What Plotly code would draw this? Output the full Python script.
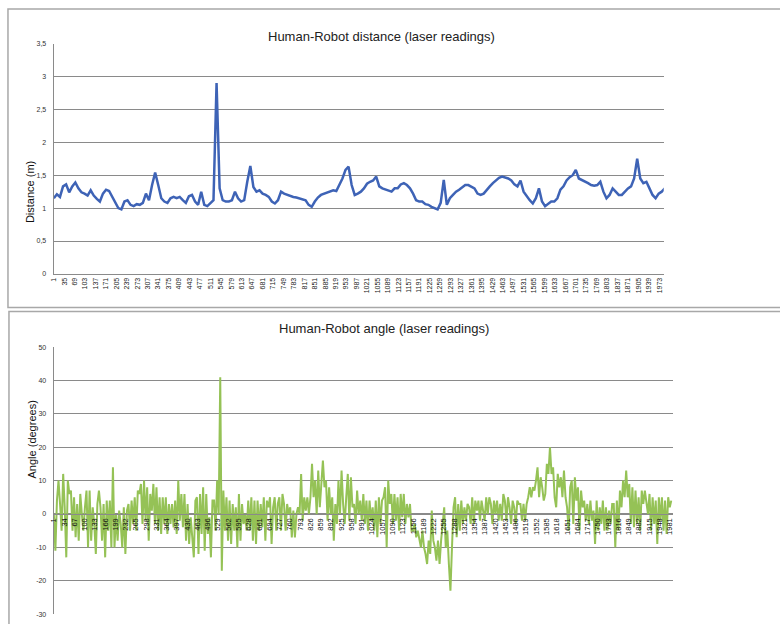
import plotly.graph_objects as go

W, H = 780, 624

# ---- data -------------------------------------------------------------
# Human-robot distance in metres, one reading every 10 frames from frame 1
DIST_STEP = 10
distance_m = [
    1.15, 1.21, 1.17, 1.33, 1.36, 1.24, 1.33, 1.39, 1.30, 1.24,
    1.22, 1.19, 1.27, 1.19, 1.14, 1.10, 1.22, 1.28, 1.26, 1.18,
    1.08, 1.00, 0.98, 1.10, 1.12, 1.05, 1.03, 1.06, 1.05, 1.08,
    1.22, 1.12, 1.35, 1.54, 1.35, 1.15, 1.10, 1.08, 1.15, 1.17,
    1.15, 1.17, 1.12, 1.08, 1.18, 1.20, 1.10, 1.05, 1.25, 1.05,
    1.03, 1.08, 1.12, 2.90, 1.30, 1.12, 1.10, 1.10, 1.12, 1.25,
    1.15, 1.10, 1.12, 1.40, 1.64, 1.32, 1.25, 1.27, 1.22, 1.20,
    1.17, 1.10, 1.07, 1.12, 1.25, 1.22, 1.20, 1.18, 1.17, 1.16,
    1.15, 1.13, 1.12, 1.05, 1.02, 1.10, 1.16, 1.20, 1.22, 1.23,
    1.25, 1.27, 1.26, 1.35, 1.45, 1.58, 1.63, 1.35, 1.20, 1.22,
    1.25, 1.30, 1.37, 1.40, 1.42, 1.48, 1.33, 1.30, 1.28, 1.27,
    1.25, 1.30, 1.30, 1.36, 1.38, 1.35, 1.30, 1.22, 1.12, 1.10,
    1.10, 1.06, 1.05, 1.02, 1.00, 0.98, 1.08, 1.43, 1.05, 1.15,
    1.20, 1.25, 1.28, 1.32, 1.35, 1.35, 1.33, 1.30, 1.22, 1.20,
    1.22, 1.28, 1.33, 1.38, 1.42, 1.46, 1.48, 1.47, 1.45, 1.42,
    1.36, 1.33, 1.42, 1.25, 1.18, 1.12, 1.07, 1.15, 1.30, 1.10,
    1.03, 1.07, 1.10, 1.10, 1.15, 1.28, 1.33, 1.42, 1.47, 1.50,
    1.58, 1.45, 1.43, 1.40, 1.38, 1.35, 1.34, 1.35, 1.40, 1.25,
    1.15, 1.20, 1.30, 1.25, 1.20, 1.20, 1.25, 1.30, 1.33, 1.45,
    1.75, 1.45, 1.38, 1.40, 1.30, 1.20, 1.15, 1.22, 1.25, 1.30,
]

# Human-robot angle in degrees, one reading every 5 frames from frame 1
ANGLE_STEP = 5
angle_deg = [
    0, -11, 4, 10, 3, -5, 12, 2, -13, 10,
    6, 7, -5, 5, -7, 3, -8, 6, 0, -5,
    2, 7, -10, 7, -8, 2, -3, -12, 3, 7,
    2, -8, 3, -13, 4, -5, 4, -10, 14, -10,
    0, -8, 1, -3, -10, 2, -12, 1, 3, -5,
    4, -3, 5, -5, 7, 6, 9, -3, 10, -2,
    8, -8, 6, 1, 9, -3, 8, -5, 5, -6,
    5, -3, 5, -6, 3, -3, 3, -4, 4, -6,
    10, -2, 6, -4, 6, -8, 3, -9, -1, -8,
    -13, 4, 5, -12, 6, -6, 8, -11, 6, -6,
    -1, -13, 4, 4, -5, 10, 0, 41, -17, 7,
    -5, 5, -8, 4, -9, 3, -5, 2, -10, 6,
    -8, 3, -3, 0, -5, 4, -5, 5, -8, 4,
    -9, 4, -5, 3, -4, 5, -8, 4, 2, 5,
    -9, 2, 5, -5, 3, 5, -5, 6, 3, -5,
    3, 0, 2, -7, 1, -7, 0, 2, 0, 12,
    -2, 5, 1, 5, 0, 5, 15, 5, 10, 0,
    13, 2, 8, 16, 8, 10, -2, 8, 0, 5,
    -8, 3, -3, 10, 0, 13, 3, -3, 5, 12,
    -2, 11, 2, 3, -3, 7, 0, 4, -2, 6,
    -3, 4, -5, 4, -2, 2, -5, 4, -7, 5,
    -3, 4, 5, 8, -10, 10, 3, 6, -3, 6,
    -2, 5, -5, 6, -1, 6, -3, 3, -1, 3,
    -5, -5, -3, -7, -5, -8, -10, -5, -10, -12,
    -15, -8, -12, 1, -8, -10, -14, -8, -15, -8,
    -3, 2, -10, -5, -15, -23, -10, 2, 5, -7,
    3, -5, 4, -3, 2, -2, 3, 2, -3, 5,
    -3, 4, 1, 4, -2, 4, 1, -2, 5, 0,
    5, 3, -3, 4, 0, 4, -2, 3, -2, 6,
    4, -2, 5, 2, -3, 4, 2, -3, 4, 3,
    3, -2, 3, -2, 3, 5, 8, 5, 8, 7,
    10, 14, 5, 11, 8, 4, 6, 15, 12, 20,
    12, 14, 5, 2, 12, 8, 11, 5, 13, 5,
    2, -5, 8, 10, -3, 11, 4, 8, -5, 7,
    2, 4, -2, 3, -3, 4, -2, 1, -9, 4,
    -5, 2, -3, 4, -5, 2, -5, 1, -3, 3,
    3, -10, 4, -5, 7, 2, 10, 5, 13, 5,
    9, -3, 8, -4, 7, -3, 5, -5, 7, 3,
    7, 3, 0, 6, -5, 5, -3, 4, -9, 5,
    -2, 5, -5, 4, -6, 5, 2, 4,
]

dist_frames = [1 + DIST_STEP * k for k in range(len(distance_m))]
angle_frames = [1 + ANGLE_STEP * k for k in range(len(angle_deg))]

# category labels shown on the frame axes
dist_x_ticks = [1, 35, 69, 103, 137, 171, 205, 239, 273, 307, 341, 375, 409,
                443, 477, 511, 545, 579, 613, 647, 681, 715, 749, 783, 817,
                851, 885, 919, 953, 987, 1021, 1055, 1089, 1123, 1157, 1191,
                1225, 1259, 1293, 1327, 1361, 1395, 1429, 1463, 1497, 1531,
                1565, 1599, 1633, 1667, 1701, 1735, 1769, 1803, 1837, 1871,
                1905, 1939, 1973]
angle_x_ticks = [1, 34, 67, 100, 133, 166, 199, 232, 265, 298, 331, 364, 397,
                 430, 463, 496, 529, 562, 595, 628, 661, 694, 727, 760, 793,
                 826, 859, 892, 925, 958, 991, 1024, 1057, 1090, 1123, 1156,
                 1189, 1222, 1255, 1288, 1321, 1354, 1387, 1420, 1453, 1486,
                 1519, 1552, 1585, 1618, 1651, 1684, 1717, 1750, 1783, 1816,
                 1849, 1882, 1915, 1948, 1981]

dist_y_vals = [0, 0.5, 1, 1.5, 2, 2.5, 3, 3.5]
dist_y_text = ["0", "0,5", "1", "1,5", "2", "2,5", "3", "3,5"]
angle_y_vals = [-30, -20, -10, 0, 10, 20, 30, 40, 50]

# ---- figure -----------------------------------------------------------
FONT = "Liberation Sans, Arial, sans-serif"
GRID = "#8a8a8a"
BORDER = "#a8a8a8"


def px_x(p):
    return p / W


def px_y(p):
    return 1 - p / H


fig = go.Figure()
fig.add_trace(go.Scatter(
    x=dist_frames, y=distance_m, mode="lines",
    line=dict(color="#3E63B6", width=2.5),
    xaxis="x", yaxis="y", showlegend=False,
))
fig.add_trace(go.Scatter(
    x=angle_frames, y=angle_deg, mode="lines",
    line=dict(color="#95C256", width=2),
    xaxis="x2", yaxis="y2", showlegend=False,
))

tick_font = dict(family=FONT, size=7, color="#333333")
angle_x_font = dict(family=FONT, size=7.5, color="#111111")

fig.update_layout(
    width=W, height=H,
    margin=dict(l=0, r=0, t=0, b=0),
    paper_bgcolor="white", plot_bgcolor="white",
    xaxis=dict(
        domain=[px_x(50), px_x(664)], range=[0.5, 1987.5],
        anchor="y", tickmode="array", tickvals=dist_x_ticks,
        ticktext=[str(v) for v in dist_x_ticks], tickangle=-90,
        tickfont=dict(family=FONT, size=7, color="#222222"),
        showgrid=False, zeroline=False,
        showline=True, linecolor=GRID, linewidth=1, ticks="",
    ),
    yaxis=dict(
        domain=[px_y(273), px_y(40)], range=[0, 3.5],
        anchor="x", tickmode="array", tickvals=dist_y_vals,
        ticktext=dist_y_text, tickfont=tick_font,
        showgrid=True, gridcolor=GRID, gridwidth=1, zeroline=False,
        showline=True, linecolor=GRID, linewidth=1, ticks="",
        ticklabelstandoff=5,
    ),
    xaxis2=dict(
        domain=[px_x(50), px_x(673)], range=[0.5, 1990.5],
        anchor="free", position=px_y(516), tickmode="array",
        tickvals=angle_x_ticks, ticktext=[str(v) for v in angle_x_ticks],
        tickangle=-90, tickfont=angle_x_font, showgrid=False, zeroline=False,
        showline=True, linecolor=GRID, linewidth=1, ticks="",
        layer="above traces",
    ),
    yaxis2=dict(
        domain=[px_y(617), px_y(347)], range=[-30, 50],
        anchor="x2", tickmode="array", tickvals=angle_y_vals,
        ticktext=[str(v) for v in angle_y_vals], tickfont=tick_font,
        showgrid=True, gridcolor=GRID, gridwidth=1, zeroline=False,
        showline=True, linecolor=GRID, linewidth=1, ticks="",
        ticklabelstandoff=5,
    ),
    shapes=[
        dict(type="rect", xref="paper", yref="paper",
             x0=px_x(4), x1=1.02, y0=px_y(307), y1=px_y(5),
             line=dict(color=BORDER, width=1.5), layer="below"),
        dict(type="rect", xref="paper", yref="paper",
             x0=px_x(5), x1=1.02, y0=-0.02, y1=px_y(311),
             line=dict(color=BORDER, width=1.5), layer="below"),
    ],
    annotations=[
        dict(text="Human-Robot distance (laser readings)", xref="paper",
             yref="paper", x=px_x(380), y=px_y(23), showarrow=False,
             font=dict(family=FONT, size=13, color="#222222")),
        dict(text="Human-Robot angle (laser readings)", xref="paper",
             yref="paper", x=px_x(382), y=px_y(328), showarrow=False,
             font=dict(family=FONT, size=13, color="#222222")),
        dict(text="Distance (m)", xref="paper", yref="paper",
             x=px_x(18), y=px_y(157), textangle=-90, showarrow=False,
             font=dict(family=FONT, size=11, color="#111111")),
        dict(text="Angle (degrees)", xref="paper", yref="paper",
             x=px_x(20), y=px_y(482), textangle=-90, showarrow=False,
             font=dict(family=FONT, size=11, color="#111111")),
    ],
)

fig.write_html("out.html")
